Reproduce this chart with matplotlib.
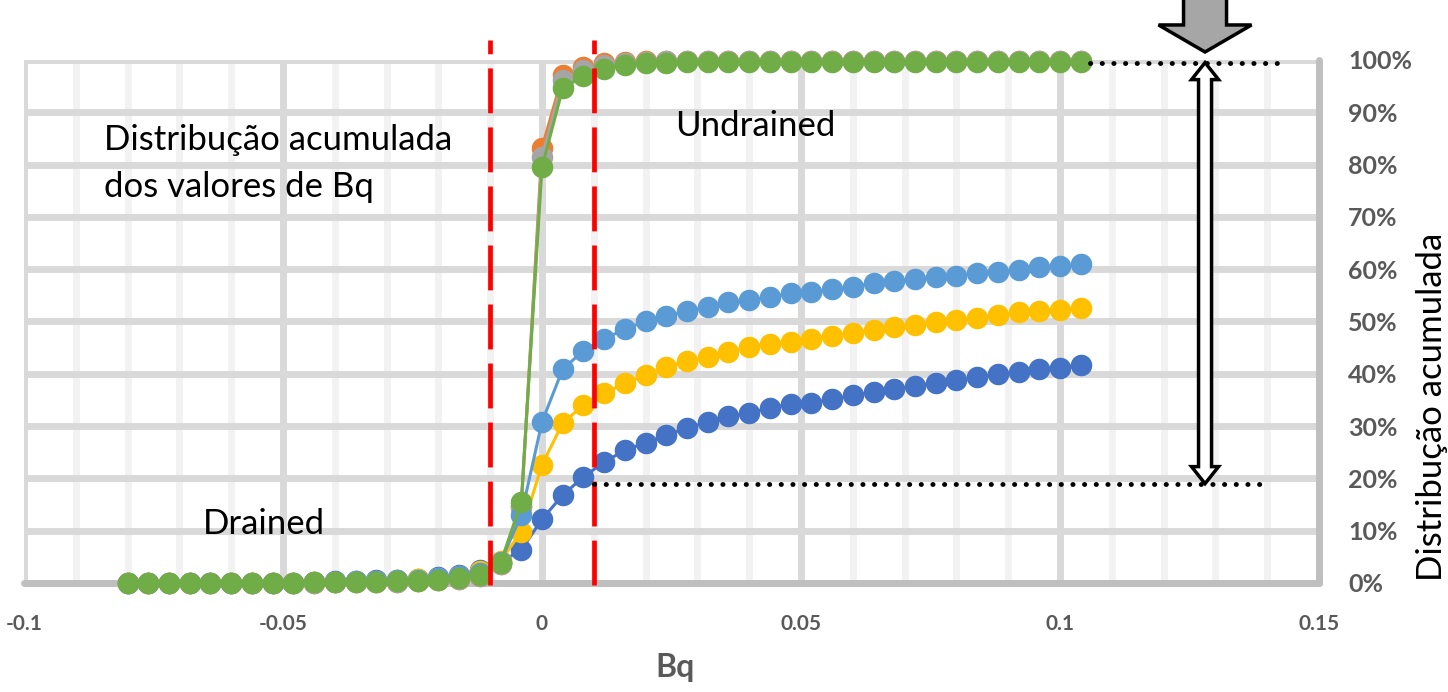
import numpy as np
import matplotlib
matplotlib.use('Agg')
import matplotlib.pyplot as plt
from matplotlib.patches import Polygon
from matplotlib.ticker import MultipleLocator, FuncFormatter

# Bq bin values (x) and cumulative distribution (%) for each series
bq = [-0.080, -0.076, -0.072, -0.068, -0.064, -0.060, -0.056, -0.052, -0.048, -0.044,
      -0.040, -0.036, -0.032, -0.028, -0.024, -0.020, -0.016, -0.012, -0.008, -0.004,
      0.000, 0.004, 0.008, 0.012, 0.016, 0.020, 0.024, 0.028, 0.032, 0.036,
      0.040, 0.044, 0.048, 0.052, 0.056, 0.060, 0.064, 0.068, 0.072, 0.076,
      0.080, 0.084, 0.088, 0.092, 0.096, 0.100, 0.104]

s1 = [0, 0, 0, 0, 0, 0, 0, 0, 0, 0.2, 0.3, 0.4, 0.5, 0.6, 0.8, 1.1, 1.6, 2.5, 4.0, 6.3,
      12.2, 16.8, 20.3, 23.1, 25.4, 26.8, 28.3, 29.6, 30.8, 31.9, 32.5, 33.5, 34.2, 34.5,
      35.1, 35.9, 36.5, 37.0, 37.7, 38.3, 38.8, 39.3, 39.9, 40.4, 40.9, 41.2, 41.7]
s2 = [0, 0, 0, 0, 0, 0, 0, 0, 0, 0, 0.1, 0.1, 0.2, 0.2, 0.3, 0.5, 0.8, 1.3, 3.6, 14.5,
      83.2, 97.1, 98.6, 99.4, 99.7, 99.8, 99.8, 99.8, 99.9, 99.9, 99.9, 99.9, 99.9, 99.9,
      99.9, 99.9, 99.9, 99.9, 99.9, 99.9, 99.9, 99.9, 99.9, 99.9, 99.9, 99.9, 99.9]
s3 = [0, 0, 0, 0, 0, 0, 0, 0, 0, 0, 0.1, 0.1, 0.2, 0.2, 0.3, 0.5, 0.8, 1.3, 3.7, 14.8,
      81.5, 96.2, 98.1, 99.1, 99.5, 99.7, 99.8, 99.8, 99.8, 99.8, 99.8, 99.8, 99.8, 99.8,
      99.8, 99.8, 99.8, 99.8, 99.8, 99.8, 99.8, 99.8, 99.8, 99.8, 99.8, 99.8, 99.8]
s4 = [0, 0, 0, 0, 0, 0, 0, 0, 0, 0.1, 0.2, 0.3, 0.4, 0.5, 0.7, 1.0, 1.4, 2.2, 4.2, 9.8,
      22.6, 30.6, 34.0, 36.3, 38.2, 39.8, 41.3, 42.4, 43.2, 44.2, 45.1, 45.7, 46.1, 46.7,
      47.2, 47.8, 48.4, 48.9, 49.3, 49.9, 50.3, 50.7, 51.2, 51.8, 52.0, 52.2, 52.6]
s5 = [0, 0, 0, 0, 0, 0, 0, 0, 0, 0.1, 0.2, 0.3, 0.4, 0.5, 0.6, 0.9, 1.3, 2.0, 4.0, 13.0,
      30.8, 40.9, 44.4, 46.7, 48.5, 50.1, 51.1, 52.0, 52.8, 53.7, 54.1, 54.7, 55.4, 55.7,
      56.2, 56.6, 57.4, 57.8, 58.1, 58.5, 58.7, 59.3, 59.5, 59.8, 60.4, 60.6, 60.9]
s6 = [0, 0, 0, 0, 0, 0, 0, 0, 0, 0.1, 0.1, 0.2, 0.2, 0.3, 0.4, 0.6, 0.9, 1.5, 3.8, 15.5,
      79.5, 94.6, 96.9, 98.3, 99.0, 99.4, 99.5, 99.6, 99.7, 99.7, 99.7, 99.7, 99.7, 99.7,
      99.7, 99.7, 99.7, 99.7, 99.7, 99.7, 99.7, 99.7, 99.7, 99.7, 99.7, 99.7, 99.7]

series = [s1, s2, s3, s4, s5, s6]
colors = ['#4472C4', '#ED7D31', '#A5A5A5', '#FFC000', '#5B9BD5', '#70AD47']

y_ticks = [0, 0.1, 0.2, 0.3, 0.4, 0.5, 0.6, 0.7, 0.8, 0.9, 1.0]

# limits of drained / undrained zone and the span marked on the right
bq_lim = 0.01
span_low = 0.19
span_high = 0.995
arrow_x = 0.128

font = ['Lato', 'DejaVu Sans']
tick_grey = '#595959'

fig = plt.figure(figsize=(14.48, 6.92), dpi=100)
ax = fig.add_axes([24 / 1448, 109 / 692, 1295 / 1448, 523 / 692])
ax.set_xlim(-0.1, 0.15)
ax.set_ylim(0, 1)

ax.xaxis.set_major_locator(MultipleLocator(0.05))
ax.xaxis.set_minor_locator(MultipleLocator(0.01))
ax.set_yticks(y_ticks)
ax.grid(which='minor', axis='x', color='#f2f2f2', lw=5, zorder=0)
ax.grid(which='major', axis='both', color='#d9d9d9', lw=5, zorder=0)
ax.set_axisbelow(True)

for side in ['left', 'top']:
    ax.spines[side].set_visible(False)
for side in ['bottom', 'right']:
    ax.spines[side].set_color('#bfbfbf')
    ax.spines[side].set_linewidth(5)
    ax.spines[side].set_capstyle('round')

ax.yaxis.tick_right()
ax.tick_params(which='both', length=0)
ax.tick_params(axis='y', pad=21)
ax.tick_params(axis='x', pad=22)
ax.xaxis.set_major_formatter(FuncFormatter(lambda v, p: '0' if abs(v) < 1e-9 else ('%g' % round(v, 3))))
ax.yaxis.set_major_formatter(FuncFormatter(lambda v, p: '%d%%' % round(v * 100)))
for lab in ax.get_xticklabels():
    lab.set_fontfamily(font)
    lab.set_fontweight('bold')
    lab.set_fontsize(15)
    lab.set_color(tick_grey)
for lab in ax.get_yticklabels():
    lab.set_fontfamily(font)
    lab.set_fontweight('bold')
    lab.set_fontsize(18)
    lab.set_color(tick_grey)

# data series
for i, (s, c) in enumerate(zip(series, colors)):
    ax.plot(bq, np.array(s) / 100, color=c, lw=2.2, marker='o', ms=14.5,
            mec=c, mfc=c, zorder=4 + i, clip_on=False)

# drained / undrained limits
for xv in [-bq_lim, bq_lim]:
    ax.plot([xv, xv], [-0.004, 1.038], color='red', lw=3.4, ls=(0, (9.5, 3.0)),
            zorder=12, clip_on=False)

# dotted reference lines
ax.plot([0.1058, 0.1419], [span_high, span_high], color='black', lw=3.5,
        ls=(0, (0.05, 2.35)), dash_capstyle='round', zorder=13, clip_on=False)
ax.plot([bq_lim, 0.139], [span_low, span_low], color='black', lw=3.5,
        ls=(0, (0.05, 2.35)), dash_capstyle='round', zorder=13, clip_on=False)

# hollow double arrow
sw = 6.5 / 5180
hw = 13.5 / 5180
hl = 17 / 523
pts = [(arrow_x, span_high), (arrow_x + hw, span_high - hl), (arrow_x + sw, span_high - hl),
       (arrow_x + sw, span_low + hl), (arrow_x + hw, span_low + hl), (arrow_x, span_low),
       (arrow_x - hw, span_low + hl), (arrow_x - sw, span_low + hl), (arrow_x - sw, span_high - hl),
       (arrow_x - hw, span_high - hl)]
ax.add_patch(Polygon(pts, closed=True, fc='white', ec='black', lw=2.5, zorder=14,
                     clip_on=False, joinstyle='miter'))

# grey block arrow at the top
gsw = 21.5 / 5180
ghw = 46.5 / 5180
tip = 1.0153
base = 1.067
top = 1.14
gpts = [(arrow_x, tip), (arrow_x + ghw, base), (arrow_x + gsw, base), (arrow_x + gsw, top),
        (arrow_x - gsw, top), (arrow_x - gsw, base), (arrow_x - ghw, base)]
ax.add_patch(Polygon(gpts, closed=True, fc='#a6a6a6', ec='black', lw=2.5, zorder=14,
                     clip_on=False, joinstyle='miter'))

# annotations
ax.text(-0.0845, 0.802, 'Distribução acumulada\ndos valores de Bq', fontsize=25,
        family=font, color='black', va='center', ha='left', linespacing=1.55)
ax.text(0.0412, 0.874, 'Undrained', fontsize=25, family=font, color='black',
        va='center', ha='center')
ax.text(-0.0536, 0.113, 'Drained', fontsize=25, family=font, color='black',
        va='center', ha='center')

fig.text(675 / 1448, 1 - 668 / 692, 'Bq', fontsize=23, family=font, fontweight='bold',
         color=tick_grey, ha='center', va='center')
fig.text(1432 / 1448, 1 - 407 / 692, 'Distribução acumulada', fontsize=25, family=font,
         color='black', rotation=90, ha='center', va='center')

fig.savefig('out.png', dpi=100)
